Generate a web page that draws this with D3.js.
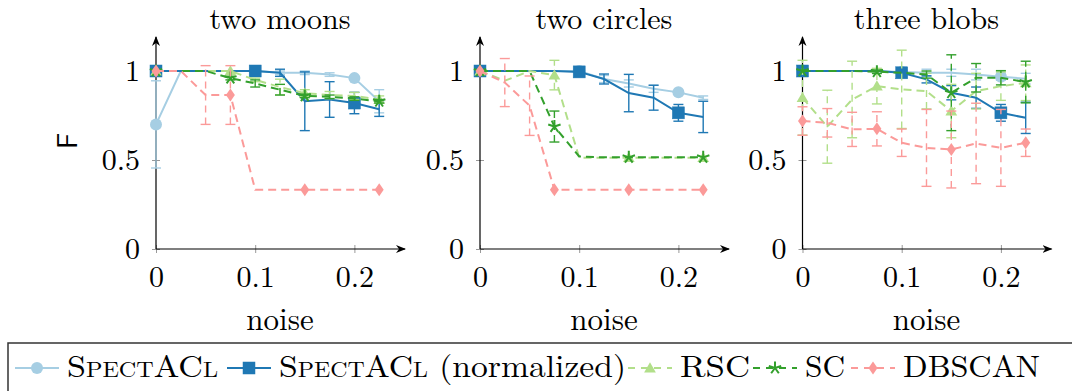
<!DOCTYPE html>
<html><head><meta charset="utf-8">
<script src="https://cdn.jsdelivr.net/npm/d3@7"></script>
<style>
body{margin:0;background:#fff}
svg{display:block}
</style>
</head><body>
<svg id="c" width="1072" height="391"></svg>
<script>
// ---------------- data ----------------
const noise = [0, 0.025, 0.05, 0.075, 0.1, 0.125, 0.15, 0.175, 0.2, 0.225];
const xTickValues = [0, 0.1, 0.2];
const xTickLabels = ["0", "0.1", "0.2"];
const yTickValues = [0, 0.5, 1];
const yTickLabels = ["0", "0.5", "1"];
const panelTitles = ["two moons", "two circles", "three blobs"];
const seriesNames = ["SpectACl", "SpectACl (normalized)", "RSC", "SC", "DBSCAN"];
const xLabel = "noise";
const yLabel = "F";

// two moons
const moonsSpectACl     = [0.70, 1.00, 1.00, 1.00, 1.00, 0.99, 0.99, 0.98, 0.96, 0.83];
const moonsSpectAClErr  = [0.245, 0, 0, 0, 0, 0.01, 0.01, 0.01, 0.01, 0.065];
const moonsNorm         = [1.00, 1.00, 1.00, 1.00, 1.00, 0.99, 0.83, 0.84, 0.82, 0.785];
const moonsNormErr      = [0, 0, 0, 0, 0, 0.02, 0.165, 0.10, 0.06, 0.04];
const moonsRSC          = [1.00, 1.00, 1.00, 1.00, 0.95, 0.91, 0.875, 0.865, 0.86, 0.84];
const moonsRSCErr       = [0, 0, 0, 0, 0.01, 0.044, 0.02, 0.02, 0.02, 0.02];
const moonsSC           = [1.00, 1.00, 1.00, 0.96, 0.93, 0.895, 0.86, 0.855, 0.845, 0.83];
const moonsSCErr        = [0, 0, 0, 0.01, 0.02, 0.03, 0.01, 0.01, 0.01, 0.01];
const moonsDBSCAN       = [1.00, 1.00, 0.865, 0.865, 0.333, 0.333, 0.333, 0.333, 0.333, 0.333];
const moonsDBSCANErr    = [0, 0, 0.165, 0.165, 0, 0, 0, 0, 0, 0];

// two circles
const circlesSpectACl    = [1.00, 1.00, 1.00, 1.00, 1.00, 0.955, 0.93, 0.90, 0.88, 0.85];
const circlesSpectAClErr = [0, 0, 0, 0, 0, 0.02, 0.02, 0.02, 0.01, 0.01];
const circlesNorm        = [1.00, 1.00, 1.00, 1.00, 0.995, 0.955, 0.876, 0.85, 0.765, 0.742];
const circlesNormErr     = [0, 0, 0, 0, 0, 0.028, 0.105, 0.07, 0.047, 0.088];
const circlesRSC         = [1.00, 0.945, 1.00, 0.977, 0.513, 0.513, 0.513, 0.513, 0.513, 0.513];
const circlesRSCErr      = [0, 0, 0, 0.083, 0, 0, 0, 0, 0, 0];
const circlesSC          = [1.00, 1.00, 1.00, 0.688, 0.52, 0.515, 0.515, 0.515, 0.515, 0.515];
const circlesSCErr       = [0, 0, 0, 0.087, 0, 0, 0, 0, 0, 0];
const circlesDBSCAN      = [1.00, 0.935, 0.805, 0.333, 0.333, 0.333, 0.333, 0.333, 0.333, 0.333];
const circlesDBSCANErr   = [0, 0.135, 0.167, 0, 0, 0, 0, 0, 0, 0];

// three blobs
const blobsSpectACl    = [1.00, 1.00, 1.00, 1.00, 0.995, 0.99, 0.99, 0.98, 0.968, 0.957];
const blobsSpectAClErr = [0, 0, 0, 0, 0, 0.02, 0.02, 0.03, 0.02, 0.03];
const blobsNorm        = [1.00, 1.00, 1.00, 1.00, 0.99, 0.953, 0.878, 0.85, 0.765, 0.737];
const blobsNormErr     = [0, 0, 0, 0, 0, 0.02, 0.04, 0.06, 0.047, 0.088];
const blobsRSC         = [0.85, 0.687, 0.84, 0.915, 0.897, 0.887, 0.775, 0.887, 0.915, 0.934];
const blobsRSCErr      = [0.21, 0.205, 0.215, 0.10, 0.22, 0.10, 0.15, 0.10, 0.08, 0.10];
const blobsSC          = [1.00, 1.00, 1.00, 0.996, 0.99, 0.98, 0.878, 0.962, 0.962, 0.938];
const blobsSCErr       = [0, 0, 0, 0.01, 0, 0.02, 0.213, 0.08, 0.04, 0.117];
const blobsDBSCAN      = [0.719, 0.709, 0.672, 0.675, 0.597, 0.568, 0.559, 0.593, 0.568, 0.597];
const blobsDBSCANErr   = [0.08, 0.08, 0.096, 0.096, 0.077, 0.216, 0.216, 0.226, 0.216, 0.077];

// ---------------- assemble ----------------
const panels = [
  [[moonsSpectACl, moonsSpectAClErr], [moonsNorm, moonsNormErr], [moonsRSC, moonsRSCErr], [moonsSC, moonsSCErr], [moonsDBSCAN, moonsDBSCANErr]],
  [[circlesSpectACl, circlesSpectAClErr], [circlesNorm, circlesNormErr], [circlesRSC, circlesRSCErr], [circlesSC, circlesSCErr], [circlesDBSCAN, circlesDBSCANErr]],
  [[blobsSpectACl, blobsSpectAClErr], [blobsNorm, blobsNormErr], [blobsRSC, blobsRSCErr], [blobsSC, blobsSCErr], [blobsDBSCAN, blobsDBSCANErr]]
];

const styles = [
  {color: "#a6cee3", dash: null,  marker: "circle",   every: 4},
  {color: "#1f78b4", dash: null,  marker: "square",   every: 4},
  {color: "#b2df8a", dash: "8,5", marker: "triangle", every: 3},
  {color: "#33a02c", dash: "8,5", marker: "star",     every: 3},
  {color: "#fb9a99", dash: "8,5", marker: "diamond",  every: 3}
];

const SERIF = "'Latin Modern Roman', 'Liberation Serif', serif";
const SANS = "'Latin Modern Sans', 'DejaVu Sans', 'Liberation Sans', sans-serif";

const svg = d3.select("#c");
const defs = svg.append("defs");
defs.append("marker").attr("id", "arr")
  .attr("viewBox", "0 0 10 10").attr("refX", 9).attr("refY", 5)
  .attr("markerWidth", 10).attr("markerHeight", 10)
  .attr("markerUnits", "userSpaceOnUse").attr("orient", "auto")
  .append("path").attr("d", "M0,1 L10,5 L0,9 L3,5 Z").attr("fill", "#000");

function drawMarker(g, type, cx, cy, color) {
  if (type === "circle") {
    g.append("circle").attr("cx", cx).attr("cy", cy).attr("r", 6).attr("fill", color);
  } else if (type === "square") {
    g.append("rect").attr("x", cx - 6).attr("y", cy - 6).attr("width", 12).attr("height", 12)
      .attr("fill", color).attr("stroke", color).attr("stroke-width", 0.5);
  } else if (type === "triangle") {
    g.append("path").attr("d", d3.symbol(d3.symbolTriangle, 60)())
      .attr("transform", `translate(${cx},${cy + 1})`).attr("fill", color);
  } else if (type === "diamond") {
    g.append("path").attr("d", `M0,-6.5 L4.5,0 L0,6.5 L-4.5,0 Z`)
      .attr("transform", `translate(${cx},${cy})`).attr("fill", color);
  } else if (type === "star") {
    let d = "";
    for (let k = 0; k < 5; k++) {
      const a = -Math.PI / 2 + k * 2 * Math.PI / 5;
      d += `M0,0 L${(6.5 * Math.cos(a)).toFixed(2)},${(6.5 * Math.sin(a)).toFixed(2)} `;
    }
    g.append("path").attr("d", d).attr("transform", `translate(${cx},${cy})`)
      .attr("stroke", color).attr("stroke-width", 2).attr("fill", "none");
  }
}

const originsX = [156, 480, 802.5];
const plotW = 248;
const y = d3.scaleLinear().domain([0, 1]).range([249, 71]);
const yTop = 37;

panels.forEach((series, pi) => {
  const ox = originsX[pi];
  const x = d3.scaleLinear().domain([0, 0.25]).range([ox, ox + plotW]);
  const g = svg.append("g");

  // x axis
  const xa = g.append("g").attr("transform", `translate(0,${y(0)})`)
    .call(d3.axisBottom(x).tickValues(xTickValues).tickFormat((d, i) => xTickLabels[i]).tickSize(4));
  xa.attr("font-family", SERIF).attr("font-size", 30);
  xa.select(".domain").remove();
  xa.selectAll(".tick line").attr("y1", -4).attr("y2", 4).attr("stroke", "#999").attr("stroke-width", 1);
  xa.selectAll(".tick text").attr("y", 38).attr("dy", null)
    .attr("font-family", SERIF).attr("font-size", 30).attr("fill", "#000");

  // y axis
  const ya = g.append("g").attr("transform", `translate(${ox},0)`)
    .call(d3.axisLeft(y).tickValues(yTickValues).tickFormat((d, i) => yTickLabels[i]).tickSize(4));
  ya.attr("font-family", SERIF).attr("font-size", 30);
  ya.select(".domain").remove();
  ya.selectAll(".tick line").attr("x1", -4).attr("x2", 4).attr("stroke", "#999").attr("stroke-width", 1);
  ya.selectAll(".tick text").attr("x", -16).attr("dy", "0.33em")
    .attr("font-family", SERIF).attr("font-size", 30).attr("fill", "#000");

  g.append("line").attr("x1", ox).attr("x2", ox + plotW + 1).attr("y1", y(0)).attr("y2", y(0))
    .attr("stroke", "#000").attr("stroke-width", 1.2).attr("marker-end", "url(#arr)");
  g.append("line").attr("x1", ox).attr("x2", ox).attr("y1", y(0)).attr("y2", yTop)
    .attr("stroke", "#000").attr("stroke-width", 1.2).attr("marker-end", "url(#arr)");

  // title and label
  g.append("text").attr("x", ox + 124).attr("y", 29).attr("text-anchor", "middle")
    .attr("font-family", SERIF).attr("font-size", 30).text(panelTitles[pi]);
  g.append("text").attr("x", ox + 124).attr("y", 330).attr("text-anchor", "middle")
    .attr("font-family", SERIF).attr("font-size", 31).text(xLabel);

  // series
  series.forEach(([vals, errs], si) => {
    const st = styles[si];
    const sg = g.append("g");
    vals.forEach((v, i) => {
      const e = errs[i];
      if (!e) return;
      const px = x(noise[i]);
      sg.append("line").attr("x1", px).attr("x2", px).attr("y1", y(v - e)).attr("y2", y(v + e))
        .attr("stroke", st.color).attr("stroke-width", 1.4)
        .attr("stroke-dasharray", st.dash ? "7,5" : null);
      [v - e, v + e].forEach(c => {
        sg.append("line").attr("x1", px - 5).attr("x2", px + 5).attr("y1", y(c)).attr("y2", y(c))
          .attr("stroke", st.color).attr("stroke-width", 1.4);
      });
    });
    const line = d3.line().x((d, i) => x(noise[i])).y(d => y(d));
    sg.append("path").datum(vals).attr("d", line).attr("fill", "none")
      .attr("stroke", st.color).attr("stroke-width", 2)
      .attr("stroke-dasharray", st.dash);
    vals.forEach((v, i) => {
      if (i % st.every === 0) drawMarker(sg, st.marker, x(noise[i]), y(v), st.color);
    });
  });
});

// y label
svg.append("text").attr("transform", "translate(77,141) rotate(-90)")
  .attr("text-anchor", "middle")
  .attr("font-family", SANS).attr("font-size", 29).text(yLabel);

// legend
const lg = svg.append("g");
lg.append("rect").attr("x", 8).attr("y", 343).attr("width", 1072).attr("height", 60)
  .attr("fill", "#fff").attr("stroke", "#333").attr("stroke-width", 1.5);
const legendX = [15, 227, 628, 753, 851];
const legendTextLen = [151, 347, 70, 40, 137];
const ly = 368;
seriesNames.forEach((name, i) => {
  const st = styles[i];
  const lx = legendX[i];
  lg.append("line").attr("x1", lx).attr("x2", lx + 44).attr("y1", ly).attr("y2", ly)
    .attr("stroke", st.color).attr("stroke-width", 2)
    .attr("stroke-dasharray", st.dash ? "7,6" : null);
  drawMarker(lg, st.marker, lx + 22, ly, st.color);
  const t = lg.append("text").attr("x", lx + 52).attr("y", 377)
    .attr("font-family", SERIF).attr("font-size", 31)
    .attr("textLength", legendTextLen[i]).attr("lengthAdjust", "spacingAndGlyphs");
  if (name.startsWith("SpectACl")) {
    t.append("tspan").style("font-variant", "small-caps").text("SpectACl");
    const rest = name.slice(8);
    if (rest) t.append("tspan").text(rest);
  } else {
    t.text(name);
  }
});
</script>
</body></html>
